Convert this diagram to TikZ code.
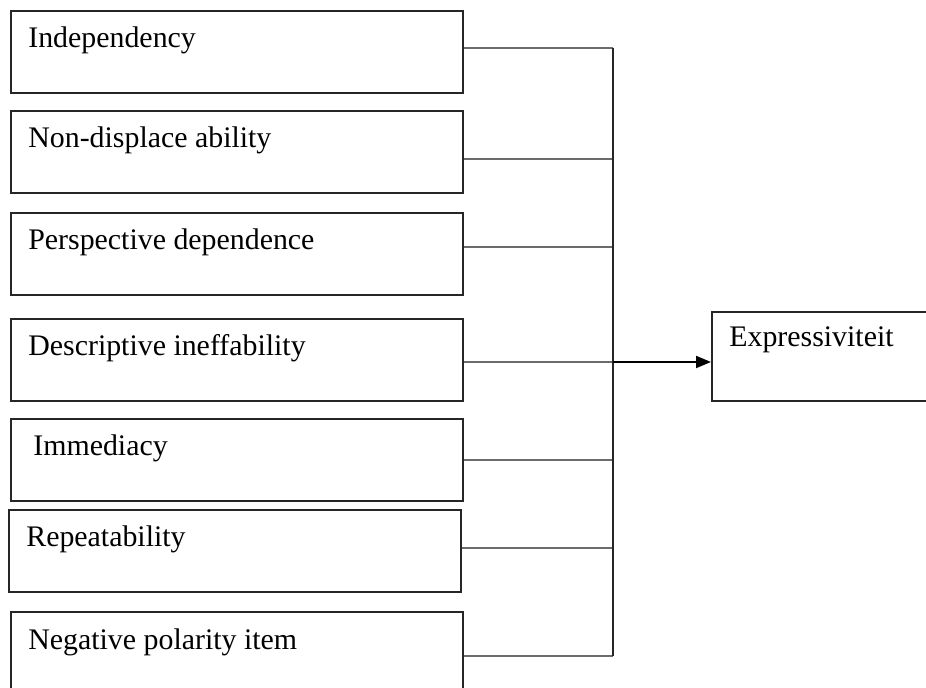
\documentclass[tikz,border=0pt]{standalone}
\usepackage{fontspec}
\setmainfont{Liberation Serif}
\usetikzlibrary{arrows.meta, positioning, calc}

\begin{document}
\begin{tikzpicture}[
            x=0.02cm, y=-0.02cm,
            font=\fontsize{17}{20}\selectfont,
            box/.style  ={draw=black!85, line width=1.1pt, anchor=north west,
                          minimum width=9.04cm, minimum height=1.64cm, inner sep=0pt},
            goal/.style ={box, minimum width=4.8cm, minimum height=1.78cm},
            lbl/.style  ={anchor=base west, inner sep=0pt},
            link/.style ={draw=black!58, line width=1.4pt},
            spine/.style={draw=black!85, line width=1.1pt},
            flow/.style ={-{Triangle[length=0.3cm, width=0.24cm]}, draw=black, line width=1.1pt}
        ]
        \clip (0,0) rectangle (926,688);

        % property boxes on the left, each with its join point on the spine
        \foreach \i/\t/\l/\ly/\ind/\txt in {
                1/10/10/48/18/Independency,
                2/110/10/159/18/Non-displace ability,
                3/212/10/247/18/Perspective dependence,
                4/318/10/362/18/Descriptive ineffability,
                5/418/10/460/23/Immediacy,
                6/509/8/548/18/Repeatability,
                7/611/10/656/18/Negative polarity item}
        {
            \node[box] (b\i) at (\l,\t) {};
            \node[lbl] (t\i) at ($(b\i.north west)+(\ind,38)$) {\txt};
            \coordinate (j\i) at (613,\ly);
            \draw[link] (b\i.east |- j\i) -- (j\i);
        }

        \draw[spine] (j1) -- (j7);

        \node[goal] (expr) at (711,311) {};
        \node[lbl] (texpr) at ($(expr.north west)+(18,36)$) {Expressiviteit};

        \draw[flow] (j4) -- (expr.west |- j4);

    \end{tikzpicture}
\end{document}
